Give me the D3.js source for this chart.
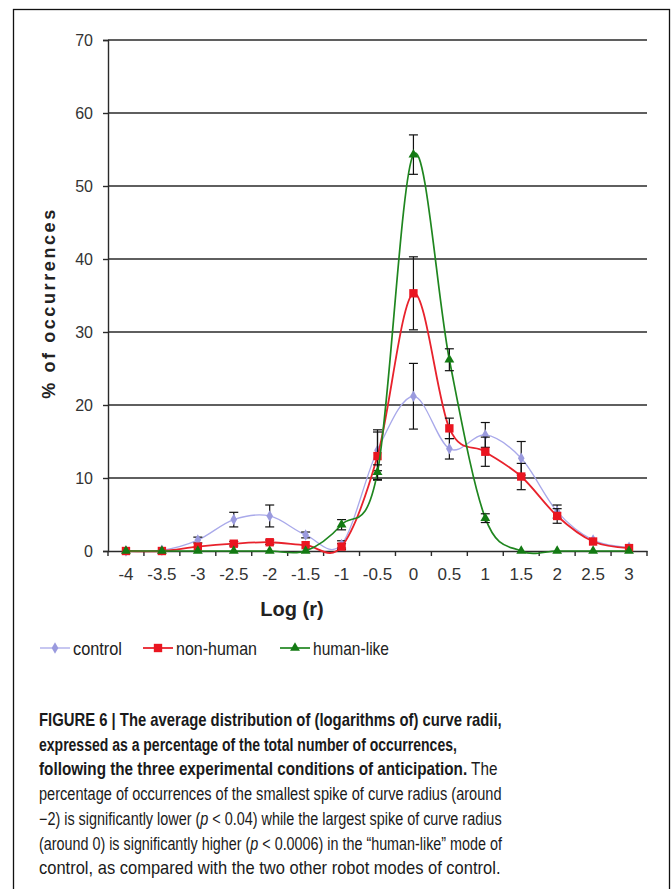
<!DOCTYPE html>
<html>
  <head>
    <title>Figure 6</title>
    <meta charset="utf-8">
    <style>
      body { margin: 0; background: #fff; }
      svg { display: block; }
      .narrow { font-family: "Liberation Sans Narrow", "Liberation Sans", Arial, sans-serif; }
      .reg { font-family: "Liberation Sans", Arial, sans-serif; }
    </style>
  </head>
  <body>
    <script src="https://d3js.org/d3.v7.min.js"></script>
    <script>
      const categories = ["-4","-3.5","-3","-2.5","-2","-1.5","-1","-0.5","0","0.5","1","1.5","2","2.5","3"]
      const yTicks = [0,10,20,30,40,50,60,70]

      const control = [0,0.1,1.5,4.3,4.8,2.2,0.9,13.8,21.2,14.0,15.9,12.7,5.4,1.5,0.5]
      const controlErr = [0,0.1,0.4,1.0,1.5,0.4,0.5,2.8,4.5,1.4,1.7,2.3,0.9,0.2,0.1]
      const nonHuman = [0,0,0.6,1.0,1.2,0.8,0.6,13.0,35.3,16.8,13.6,10.2,4.8,1.3,0.4]
      const nonHumanErr = [0,0,0.2,0.3,0.3,0.2,0.4,3.3,5.0,1.4,2.0,1.8,1.0,0.2,0.1]
      const humanLike = [0,0,0,0,0,0,3.6,10.8,54.3,26.2,4.5,0,0,0,0]
      const humanLikeErr = [0,0,0,0,0,0,0.7,1.0,2.7,1.5,0.6,0,0,0,0]

      const captionLines = [
        [["FIGURE 6 | The average distribution of (logarithms of) curve radii,", true]],
        [["expressed as a percentage of the total number of occurrences,", true]],
        [["following the three experimental conditions of anticipation.", true], [" The", false]],
        [["percentage of occurrences of the smallest spike of curve radius (around", false]],
        [["\u22122) is significantly lower (", false], ["p", "i"], [" < 0.04) while the largest spike of curve radius", false]],
        [["(around 0) is significantly higher (", false], ["p", "i"], [" < 0.0006) in the \u201Chuman-like\u201D mode of", false]],
        [["control, as compared with the two other robot modes of control.", false]]
      ]
      const captionWidths = [463, 418, 459, 463, 463, 463, 462]
      const legendWidths = [49, 81, 76]

      const W = 671, H = 889
      const plotLeft = 108, plotRight = 647, plotTop = 40, plotBottom = 551

      const svg = d3.select("body").append("svg")
        .attr("width", W).attr("height", H)

      // frame round the whole figure
      svg.append("rect")
        .attr("x", 13.5).attr("y", 9.5)
        .attr("width", 656).attr("height", 920)
        .attr("fill", "none").attr("stroke", "#111").attr("stroke-width", 1.3)

      const x = d3.scaleBand().domain(categories).range([plotLeft, plotRight])
      const cx = (c) => x(c) + x.bandwidth() / 2
      const y = d3.scaleLinear().domain([0, 70]).range([plotBottom, plotTop])

      // gridlines
      svg.append("g").selectAll("line")
        .data(yTicks.filter(d => d > 0))
        .enter().append("line")
          .attr("x1", plotLeft).attr("x2", plotRight)
          .attr("y1", d => y(d)).attr("y2", d => y(d))
          .attr("stroke", "#2a2a2a").attr("stroke-width", 1.4)

      const yAxis = svg.append("g")
        .attr("transform", "translate(" + plotLeft + ",0)")
        .call(d3.axisLeft(y).tickValues(yTicks).tickSize(5).tickPadding(10))
      yAxis.select(".domain").attr("stroke", "#2a2a2a").attr("stroke-width", 1.4)
      yAxis.selectAll(".tick line").attr("stroke", "#2a2a2a").attr("stroke-width", 1.4)
      yAxis.selectAll("text")
        .attr("class", "reg").attr("font-size", 16).attr("fill", "#333")

      const xAxis = svg.append("g")
        .attr("transform", "translate(0," + plotBottom + ")")
        .call(d3.axisBottom(x).tickSize(0).tickPadding(17))
      xAxis.select(".domain").attr("stroke", "#2a2a2a").attr("stroke-width", 1.4)
      xAxis.selectAll("text")
        .attr("class", "narrow").attr("font-size", 17).attr("fill", "#333")
      // tick marks sit between categories
      svg.append("g").selectAll("line")
        .data(categories.concat(["end"]))
        .enter().append("line")
          .attr("x1", (d, i) => i < categories.length ? x(d) : plotRight)
          .attr("x2", (d, i) => i < categories.length ? x(d) : plotRight)
          .attr("y1", plotBottom).attr("y2", plotBottom + 5)
          .attr("stroke", "#2a2a2a").attr("stroke-width", 1.4)

      svg.append("text")
        .attr("class", "narrow")
        .attr("x", 292).attr("y", 616)
        .attr("text-anchor", "middle")
        .attr("font-size", 20).attr("font-weight", "bold").attr("fill", "#222")
        .text("Log (r)")

      svg.append("text")
        .attr("class", "reg")
        .attr("transform", "translate(55,303) rotate(-90)")
        .attr("text-anchor", "middle")
        .attr("font-size", 18).attr("font-weight", "bold").attr("fill", "#222")
        .attr("letter-spacing", 2.6)
        .text("% of occurrences")

      const series = [
        { name: "control", values: control, err: controlErr, line: "#a9a9ea", mark: "#9a9ade", lw: 1.3, sym: d3.symbolDiamond, size: 38 },
        { name: "non-human", values: nonHuman, err: nonHumanErr, line: "#e8222c", mark: "#ea1520", lw: 1.8, sym: d3.symbolSquare, size: 70 },
        { name: "human-like", values: humanLike, err: humanLikeErr, line: "#1f861f", mark: "#137a13", lw: 1.7, sym: d3.symbolTriangle, size: 42 }
      ]

      const line = d3.line()
        .x((d, i) => cx(categories[i]))
        .y(d => y(d))
        .curve(d3.curveCardinal)

      series.forEach(s => {
        const g = svg.append("g")
        g.append("path")
          .datum(s.values)
          .attr("d", line)
          .attr("fill", "none").attr("stroke", s.line).attr("stroke-width", s.lw)

        const eb = g.append("g").selectAll("g")
          .data(s.values.map((v, i) => [i, v, s.err[i]]).filter(d => d[2] > 0.25))
          .enter().append("g")
        eb.append("line")
          .attr("x1", d => cx(categories[d[0]])).attr("x2", d => cx(categories[d[0]]))
          .attr("y1", d => y(d[1] + d[2])).attr("y2", d => y(d[1] - d[2]))
          .attr("stroke", "#111").attr("stroke-width", 1.2)
        eb.append("line")
          .attr("x1", d => cx(categories[d[0]]) - 4.5).attr("x2", d => cx(categories[d[0]]) + 4.5)
          .attr("y1", d => y(d[1] + d[2])).attr("y2", d => y(d[1] + d[2]))
          .attr("stroke", "#111").attr("stroke-width", 1.2)
        eb.append("line")
          .attr("x1", d => cx(categories[d[0]]) - 4.5).attr("x2", d => cx(categories[d[0]]) + 4.5)
          .attr("y1", d => y(d[1] - d[2])).attr("y2", d => y(d[1] - d[2]))
          .attr("stroke", "#111").attr("stroke-width", 1.2)

        g.append("g").selectAll("path")
          .data(s.values)
          .enter().append("path")
            .attr("d", d3.symbol().type(s.sym).size(s.size))
            .attr("transform", (d, i) => "translate(" + cx(categories[i]) + "," + y(d) + ")")
            .attr("fill", s.mark)
      })

      // legend
      const legendX = [40, 143, 280]
      const legend = svg.append("g").selectAll("g")
        .data(series)
        .enter().append("g")
          .attr("transform", (d, i) => "translate(" + legendX[i] + ",648)")
      legend.append("line")
        .attr("x1", 0).attr("x2", 30).attr("y1", 0).attr("y2", 0)
        .attr("stroke", d => d.line).attr("stroke-width", d => d.lw)
      legend.append("path")
        .attr("d", d => d3.symbol().type(d.sym).size(d.size)())
        .attr("transform", "translate(15,0)")
        .attr("fill", d => d.mark)
      legend.append("text")
        .attr("class", "narrow")
        .attr("x", 33).attr("y", 7)
        .attr("font-size", 19).attr("fill", "#222")
        .attr("textLength", (d, i) => legendWidths[i])
        .attr("lengthAdjust", "spacingAndGlyphs")
        .text(d => d.name)

      // caption, each line squeezed so it ends where the printed one does
      const cap = svg.append("g").selectAll("text")
        .data(captionLines)
        .enter().append("text")
          .attr("class", "narrow")
          .attr("x", 0).attr("y", 0)
          .attr("font-size", 17.5).attr("fill", "#1a1a1a")
      cap.selectAll("tspan")
        .data(d => d)
        .enter().append("tspan")
          .attr("font-weight", d => d[1] === true ? "bold" : "normal")
          .attr("font-style", d => d[1] === "i" ? "italic" : "normal")
          .text(d => d[0])
      cap.each(function(d, i) {
        const sx = captionWidths[i] / this.getComputedTextLength()
        d3.select(this).attr("transform",
          "translate(39," + (726 + i * 24.7) + ") scale(" + sx.toFixed(4) + ",1)")
      })
    </script>
  </body>
</html>
